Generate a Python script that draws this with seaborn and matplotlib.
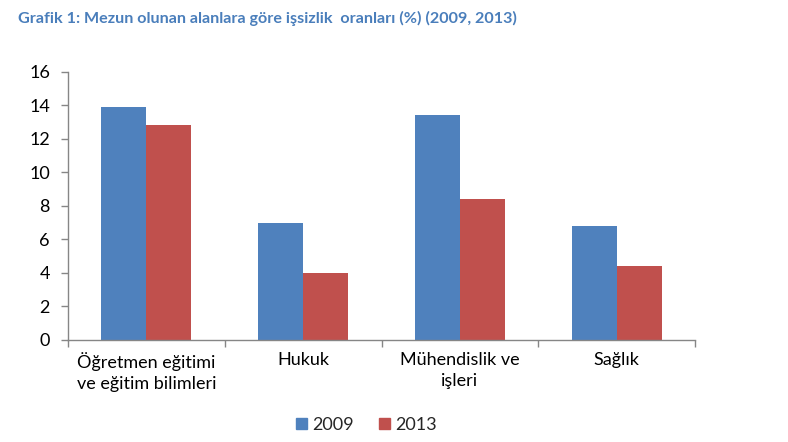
import matplotlib.pyplot as plt
import seaborn as sns
import pandas as pd

# Data
alanlar = ["Öğretmen eğitimi\nve eğitim bilimleri", "Hukuk",
           "Mühendislik ve\nişleri", "Sağlık"]
oran_2009 = [13.9, 7.0, 13.4, 6.8]
oran_2013 = [12.8, 4.0, 8.4, 4.4]
yillar = ["2009", "2013"]

renkler = ["#4F81BD", "#C0504D"]
baslik = "Grafik 1: Mezun olunan alanlara göre işsizlik  oranları (%) (2009, 2013)"

df = pd.DataFrame({
    "alan": alanlar * 2,
    "oran": oran_2009 + oran_2013,
    "yil": [yillar[0]] * len(alanlar) + [yillar[1]] * len(alanlar),
})

sns.set_theme(style="white")
plt.rcParams["font.family"] = ["Lato", "DejaVu Sans"]

fig = plt.figure(figsize=(7.88, 4.42), dpi=100)
ax = fig.add_axes([0.0863, 0.2308, 0.7957, 0.607])

sns.barplot(data=df, x="alan", y="oran", hue="yil", palette=renkler,
            width=0.574, saturation=1, linewidth=0, ax=ax, legend=False)

ax.set_ylim(0, 16)
ax.set_xlim(-0.5, len(alanlar) - 0.5)
ax.set_yticks(range(0, 17, 2))
ax.set_xlabel("")
ax.set_ylabel("")

# category boundary ticks, like the spreadsheet chart
ax.set_xticks([i - 0.5 for i in range(len(alanlar) + 1)], minor=True)
ax.tick_params(axis="x", which="major", length=0, pad=9, labelsize=13,
               colors="#000000")
ax.tick_params(axis="x", which="minor", length=5, width=1, color="#868686",
               direction="out", bottom=True)
ax.tick_params(axis="y", length=5, width=1, color="#868686", direction="out",
               left=True, pad=8, labelsize=13, colors="#000000")
for lbl in ax.get_xticklabels():
    lbl.set_linespacing(1.35)

for side in ["top", "right"]:
    ax.spines[side].set_visible(False)
for side in ["left", "bottom"]:
    ax.spines[side].set_color("#868686")
    ax.spines[side].set_linewidth(1)

handles = [plt.Rectangle((0, 0), 1, 1, color=c) for c in renkler]
fig.legend(handles, yillar, loc="center", bbox_to_anchor=(0.465, 0.0385),
           ncol=2, frameon=False, fontsize=13, handlelength=0.6,
           handleheight=0.6, handletextpad=0.3, columnspacing=1.4)

fig.text(0.023, 1 - 18 / 442, baslik, ha="left", va="center",
         fontsize=11.6, fontweight="bold", color="#4A7EBB")

fig.savefig("out.png", dpi=100)
